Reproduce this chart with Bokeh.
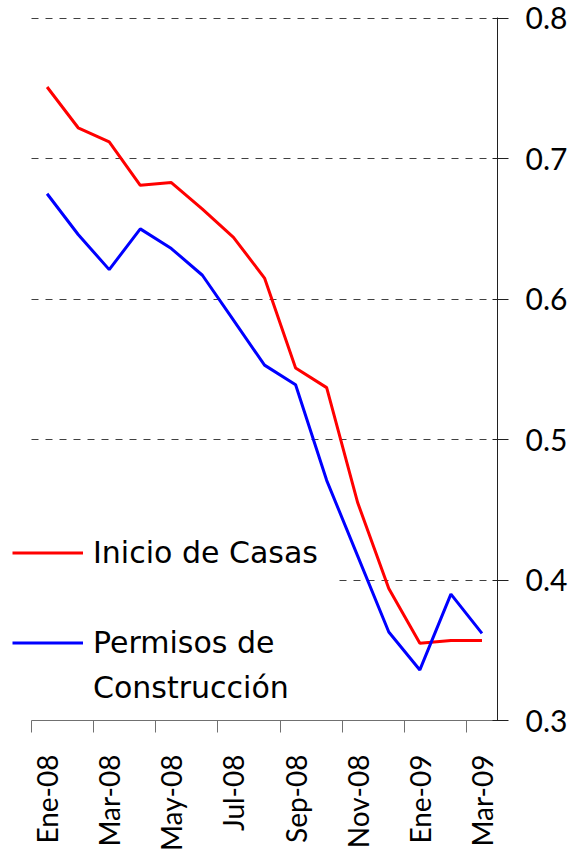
import numpy as np
from bokeh.plotting import figure
from bokeh.models import Range1d, FixedTicker, Legend, LegendItem, PrintfTickFormatter
from bokeh.embed import file_html
from bokeh.resources import INLINE

# ---- data ----
months = ["Ene-08", "Feb-08", "Mar-08", "Abr-08", "May-08", "Jun-08", "Jul-08",
          "Ago-08", "Sep-08", "Oct-08", "Nov-08", "Dic-08", "Ene-09", "Feb-09", "Mar-09"]
inicio_casas = [0.751, 0.722, 0.712, 0.681, 0.683, 0.664, 0.644, 0.615,
                0.551, 0.537, 0.455, 0.394, 0.355, 0.357, 0.357]
permisos = [0.675, 0.646, 0.621, 0.650, 0.636, 0.617, 0.585, 0.553,
            0.539, 0.471, 0.417, 0.363, 0.336, 0.390, 0.362]
tick_labels = ["Ene-08", "Mar-08", "May-08", "Jul-08", "Sep-08", "Nov-08", "Ene-09", "Mar-09"]
y_ticks = [0.3, 0.4, 0.5, 0.6, 0.7, 0.8]
grid_ticks = [0.4, 0.5, 0.6, 0.7, 0.8]

n = len(months)
x = [i + 0.5 for i in range(n)]
label_pos = [months.index(lbl) + 0.5 for lbl in tick_labels]
boundaries = [months.index(lbl) for lbl in tick_labels]

p = figure(width=571, height=856, output_backend="svg", toolbar_location=None,
           x_range=Range1d(-1, n), y_range=Range1d(y_ticks[0], y_ticks[-1] + 0.0005),
           y_axis_location="right",
           min_border_left=0, min_border_right=74, min_border_top=17, min_border_bottom=136)
p.outline_line_color = None
p.background_fill_color = "white"
p.border_fill_color = "white"

# x axis
xa = p.xaxis[0]
xa.bounds = (0, n)
xa.ticker = FixedTicker(ticks=label_pos, minor_ticks=boundaries)
xa.major_label_overrides = {pos: lbl for pos, lbl in zip(label_pos, tick_labels)}
xa.major_tick_line_color = None
xa.minor_tick_line_color = "#707070"
xa.minor_tick_in = 0
xa.minor_tick_out = 12
xa.axis_line_color = "#707070"
xa.major_label_orientation = np.pi / 2
xa.major_label_standoff = 22
xa.major_label_text_font = "Lato"
xa.major_label_text_font_size = "28px"
xa.major_label_text_color = "black"

# y axis
ya = p.yaxis[0]
ya.ticker = FixedTicker(ticks=y_ticks, minor_ticks=[])
ya.formatter = PrintfTickFormatter(format="%.1f")
ya.major_tick_in = 5
ya.major_tick_out = 11
ya.major_tick_line_color = "#202020"
ya.axis_line_color = "#202020"
ya.major_label_standoff = 17
ya.major_label_text_font = "Lato"
ya.major_label_text_font_size = "30px"
ya.major_label_text_color = "black"

# grid
p.xgrid.visible = False
p.ygrid.ticker = FixedTicker(ticks=grid_ticks)
p.ygrid.grid_line_color = "#404040"
p.ygrid.grid_line_dash = "7 7"
p.ygrid.grid_line_width = 1
try:
    p.ygrid.cross_bounds = (0, n)
except AttributeError:
    pass

# lines
r1 = p.line(x, inicio_casas, line_color="#FF0000", line_width=3)
r2 = p.line(x, permisos, line_color="#0000FF", line_width=3)

legend = Legend(items=[
    LegendItem(label="Inicio de Casas", renderers=[r1]),
    LegendItem(label=" ", renderers=[]),
    LegendItem(label="Permisos de", renderers=[r2]),
    LegendItem(label="Construcción", renderers=[]),
], location=(12, 15), orientation="vertical", padding=0, margin=0, spacing=10,
    glyph_width=71, glyph_height=35, label_height=35, label_standoff=10, label_width=246,
    label_text_font="DejaVu Sans", label_text_font_size="30px", label_text_color="black",
    background_fill_color="white", background_fill_alpha=1.0, border_line_color=None)
p.add_layout(legend, "center")

open("out.html", "w").write(file_html(p, INLINE))
